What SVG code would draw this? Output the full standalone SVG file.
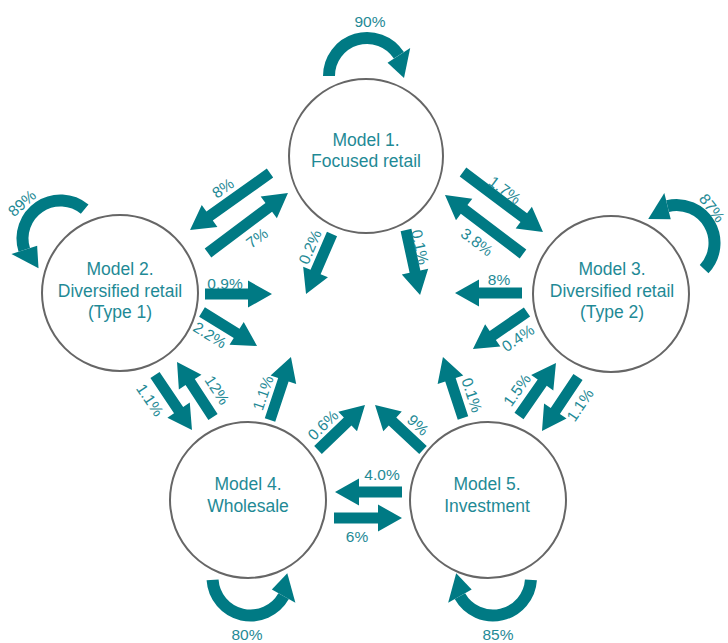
<svg xmlns="http://www.w3.org/2000/svg" width="728" height="643" viewBox="0 0 728 643">
<defs>
<style>
.node circle{fill:#fff;stroke:#666;stroke-width:2}
.node text{font-family:"Liberation Sans",Arial,sans-serif;font-size:17.5px;fill:#1f8a96;text-anchor:middle}
.arr{fill:#007a84}
.lbl{font-family:"Liberation Sans",Arial,sans-serif;font-size:15.5px;fill:#1f8a96;text-anchor:middle}
</style>
<g id="loopShape">
<path d="M-38,0 A38,38 0 0 1 31.87,-20.69" fill="none" stroke="#007a84" stroke-width="12"/>
<path d="M43.2,-28 L37,2 L20.55,-13.34 Z" fill="#007a84"/>
</g>
</defs>
<rect width="728" height="643" fill="#fff"/>

<g id="connectors">
<!-- self loops -->
<use href="#loopShape" transform="matrix(1,0,0,1,367,76)"/>
<use href="#loopShape" transform="matrix(-0.636,0.771,0.771,0.636,60.5,238.5)"/>
<use href="#loopShape" transform="matrix(-0.727,-0.687,-0.687,0.727,676.5,243)"/>
<use href="#loopShape" transform="matrix(0.998,-0.063,-0.063,-0.998,250.5,577.5)"/>
<use href="#loopShape" transform="matrix(-0.998,-0.062,0.062,-0.998,493,577.5)"/>

<!-- straight arrows -->
<path class="arr" d="M0,-5.5H74.2V-13.5L98.2,0L74.2,13.5V5.5H0Z" transform="translate(270,173) rotate(144.5)"/>
<path class="arr" d="M0,-5.5H76V-13.5L100,0L76,13.5V5.5H0Z" transform="translate(208,253) rotate(-36.9)"/>
<path class="arr" d="M0,-5.5H41.4V-13.5L65.4,0L41.4,13.5V5.5H0Z" transform="translate(332,234) rotate(113.4)"/>
<path class="arr" d="M0,-5.5H42.5V-13.5L66.5,0L42.5,13.5V5.5H0Z" transform="translate(406,230) rotate(77.8)"/>
<path class="arr" d="M0,-5.5H76V-13.5L100,0L76,13.5V5.5H0Z" transform="translate(463,172) rotate(36.9)"/>
<path class="arr" d="M0,-5.5H73.8V-13.5L97.8,0L73.8,13.5V5.5H0Z" transform="translate(523,254) rotate(-142.9)"/>
<path class="arr" d="M0,-5.5H43V-13.5L67,0L43,13.5V5.5H0Z" transform="translate(205,294)"/>
<path class="arr" d="M0,-5.5H40.7V-13.5L64.7,0L40.7,13.5V5.5H0Z" transform="translate(202,312) rotate(31.7)"/>
<path class="arr" d="M0,-5.5H42.3V-13.5L66.3,0L42.3,13.5V5.5H0Z" transform="translate(155,375) rotate(56.1)"/>
<path class="arr" d="M0,-5.5H41.7V-13.5L65.7,0L41.7,13.5V5.5H0Z" transform="translate(213,417) rotate(-123.2)"/>
<path class="arr" d="M0,-5.5H42.4V-13.5L66.4,0L42.4,13.5V5.5H0Z" transform="translate(270,420) rotate(-71.6)"/>
<path class="arr" d="M0,-5.5H41.1V-13.5L65.1,0L41.1,13.5V5.5H0Z" transform="translate(318,450) rotate(-43.8)"/>
<path class="arr" d="M0,-5.5H41.8V-13.5L65.8,0L41.8,13.5V5.5H0Z" transform="translate(423,450) rotate(-136.8)"/>
<path class="arr" d="M0,-5.5H43V-13.5L67,0L43,13.5V5.5H0Z" transform="translate(402,492) rotate(180)"/>
<path class="arr" d="M0,-5.5H44V-13.5L68,0L44,13.5V5.5H0Z" transform="translate(334,518)"/>
<path class="arr" d="M0,-5.5H40.2V-13.5L64.2,0L40.2,13.5V5.5H0Z" transform="translate(463,418) rotate(-108.2)"/>
<path class="arr" d="M0,-5.5H40.6V-13.5L64.6,0L40.6,13.5V5.5H0Z" transform="translate(519,416) rotate(-55.1)"/>
<path class="arr" d="M0,-5.5H40.9V-13.5L64.9,0L40.9,13.5V5.5H0Z" transform="translate(578,377) rotate(123.7)"/>
<path class="arr" d="M0,-5.5H43V-13.5L67,0L43,13.5V5.5H0Z" transform="translate(522,293) rotate(180)"/>
<path class="arr" d="M0,-5.5H41.5V-13.5L65.5,0L41.5,13.5V5.5H0Z" transform="translate(527,312) rotate(145.6)"/>

<!-- labels -->
<text class="lbl" dy="0.35em" transform="translate(370,22)">90%</text>
<text class="lbl" dy="0.35em" transform="translate(22,203) rotate(-42)">89%</text>
<text class="lbl" dy="0.35em" transform="translate(712,208) rotate(52)">87%</text>
<text class="lbl" dy="0.35em" transform="translate(247,635)">80%</text>
<text class="lbl" dy="0.35em" transform="translate(498,635)">85%</text>
<text class="lbl" dy="0.35em" transform="translate(223,188) rotate(-35.5)">8%</text>
<text class="lbl" dy="0.35em" transform="translate(257,238) rotate(-37)">7%</text>
<text class="lbl" dy="0.35em" transform="translate(310,247) rotate(-66.6)">0.2%</text>
<text class="lbl" dy="0.35em" transform="translate(420,247) rotate(77.8)">0.1%</text>
<text class="lbl" dy="0.35em" transform="translate(505,190) rotate(36.9)">1.7%</text>
<text class="lbl" dy="0.35em" transform="translate(477,242) rotate(37)">3.8%</text>
<text class="lbl" dy="0.35em" transform="translate(225,284)">0.9%</text>
<text class="lbl" dy="0.35em" transform="translate(210,335) rotate(31.7)">2.2%</text>
<text class="lbl" dy="0.35em" transform="translate(150,400) rotate(56)">1.1%</text>
<text class="lbl" dy="0.35em" transform="translate(217,390) rotate(57)">12%</text>
<text class="lbl" dy="0.35em" transform="translate(263,393) rotate(-71.6)">1.1%</text>
<text class="lbl" dy="0.35em" transform="translate(323,425) rotate(-43.8)">0.6%</text>
<text class="lbl" dy="0.35em" transform="translate(418,425) rotate(43)">9%</text>
<text class="lbl" dy="0.35em" transform="translate(382,475)">4.0%</text>
<text class="lbl" dy="0.35em" transform="translate(357,537)">6%</text>
<text class="lbl" dy="0.35em" transform="translate(472,395) rotate(71.8)">0.1%</text>
<text class="lbl" dy="0.35em" transform="translate(517,390) rotate(-55)">1.5%</text>
<text class="lbl" dy="0.35em" transform="translate(580,405) rotate(-56)">1.1%</text>
<text class="lbl" dy="0.35em" transform="translate(499,280)">8%</text>
<text class="lbl" dy="0.35em" transform="translate(518,338) rotate(-34.4)">0.4%</text>
</g>

<g id="node1" class="node">
<circle cx="366" cy="156" r="77"/>
<text x="366" y="146">Model 1.</text>
<text x="366" y="167">Focused retail</text>
</g>
<g id="node2" class="node">
<circle cx="120" cy="293" r="78"/>
<text x="120" y="275">Model 2.</text>
<text x="120" y="297">Diversified retail</text>
<text x="120" y="318">(Type 1)</text>
</g>
<g id="node3" class="node">
<circle cx="611" cy="294" r="78"/>
<text x="612" y="275">Model 3.</text>
<text x="612" y="297">Diversified retail</text>
<text x="612" y="318">(Type 2)</text>
</g>
<g id="node4" class="node">
<circle cx="248" cy="500" r="78"/>
<text x="248" y="490">Model 4.</text>
<text x="248" y="512">Wholesale</text>
</g>
<g id="node5" class="node">
<circle cx="488" cy="500" r="78"/>
<text x="487" y="490">Model 5.</text>
<text x="487" y="512">Investment</text>
</g>
</svg>
